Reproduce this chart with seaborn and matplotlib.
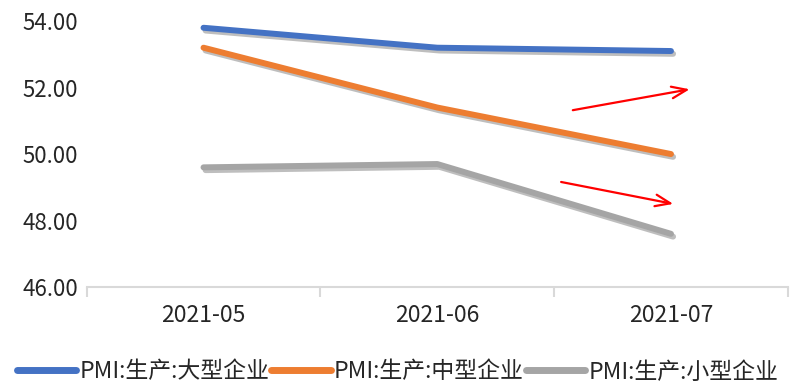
import matplotlib
matplotlib.use("Agg")
import matplotlib.pyplot as plt
import matplotlib.patheffects as pe
from matplotlib.ticker import FixedLocator, FormatStrFormatter
import seaborn as sns
import pandas as pd

months = ["2021-05", "2021-06", "2021-07"]
large = [53.8, 53.2, 53.1]
medium = [53.2, 51.4, 50.0]
small = [49.6, 49.7, 47.6]
series_names = ["PMI:生产:大型企业", "PMI:生产:中型企业", "PMI:生产:小型企业"]
colors = ["#4472C4", "#ED7D31", "#A5A5A5"]

# trend arrows (data coordinates: start -> end)
arrow_up = ((1.58, 51.32), (2.08, 51.95))
arrow_down = ((1.53, 49.16), (2.01, 48.50))

sns.set_theme(style="white")
plt.rcParams["font.family"] = ["Noto Sans CJK SC", "DejaVu Sans"]

df = pd.DataFrame({
    "month": months * 3,
    "value": large + medium + small,
    "series": [series_names[0]] * 3 + [series_names[1]] * 3 + [series_names[2]] * 3,
})

fig = plt.figure(figsize=(7.95, 3.84), dpi=100)
ax = fig.add_axes([0.109, 0.2526, 0.882, 0.6924])

sns.lineplot(data=df, x="month", y="value", hue="series", palette=colors,
             hue_order=series_names, sort=False, linewidth=4.3, ax=ax, legend=True)

for line in ax.get_lines():
    line.set_solid_capstyle("round")
    line.set_path_effects([
        pe.SimpleLineShadow(offset=(1.5, -2), shadow_color="#707070", alpha=0.45),
        pe.Normal(),
    ])

ax.set_xlim(-0.5, 2.5)
ax.set_ylim(46, 54)
ax.set_yticks([46, 48, 50, 52, 54])
ax.yaxis.set_major_formatter(FormatStrFormatter("%.2f"))
ax.set_xlabel("")
ax.set_ylabel("")

for side in ["top", "right", "left"]:
    ax.spines[side].set_visible(False)
ax.spines["bottom"].set_color("#D9D9D9")
ax.spines["bottom"].set_linewidth(1.5)

ax.xaxis.set_minor_locator(FixedLocator([-0.5, 0.5, 1.5, 2.5]))
ax.tick_params(axis="x", which="minor", bottom=True, length=7, width=1.5, color="#D9D9D9")
ax.tick_params(axis="x", which="major", bottom=False, length=0, pad=12,
               labelsize=16.5, labelcolor="#262626")
ax.tick_params(axis="y", length=0, pad=6, labelsize=16, labelcolor="#262626")

for (x0, y0), (x1, y1) in (arrow_up, arrow_down):
    ax.annotate("", xy=(x1, y1), xytext=(x0, y0),
                arrowprops=dict(arrowstyle="->,head_length=0.9,head_width=0.35",
                                color="red", lw=1.6, shrinkA=0, shrinkB=0))

handles, labels = ax.get_legend_handles_labels()
ax.legend(handles, labels, loc="center", bbox_to_anchor=(0.5, 12 / 384),
          bbox_transform=fig.transFigure, ncol=3, frameon=False, fontsize=16.5,
          handlelength=2.6, handletextpad=0.12, columnspacing=0.1, borderaxespad=0,
          borderpad=0)
for line in ax.get_legend().get_lines():
    line.set_linewidth(5)
    line.set_solid_capstyle("round")
    line.set_path_effects([])
for txt in ax.get_legend().get_texts():
    txt.set_color("#262626")

fig.savefig("out.png", dpi=100)
